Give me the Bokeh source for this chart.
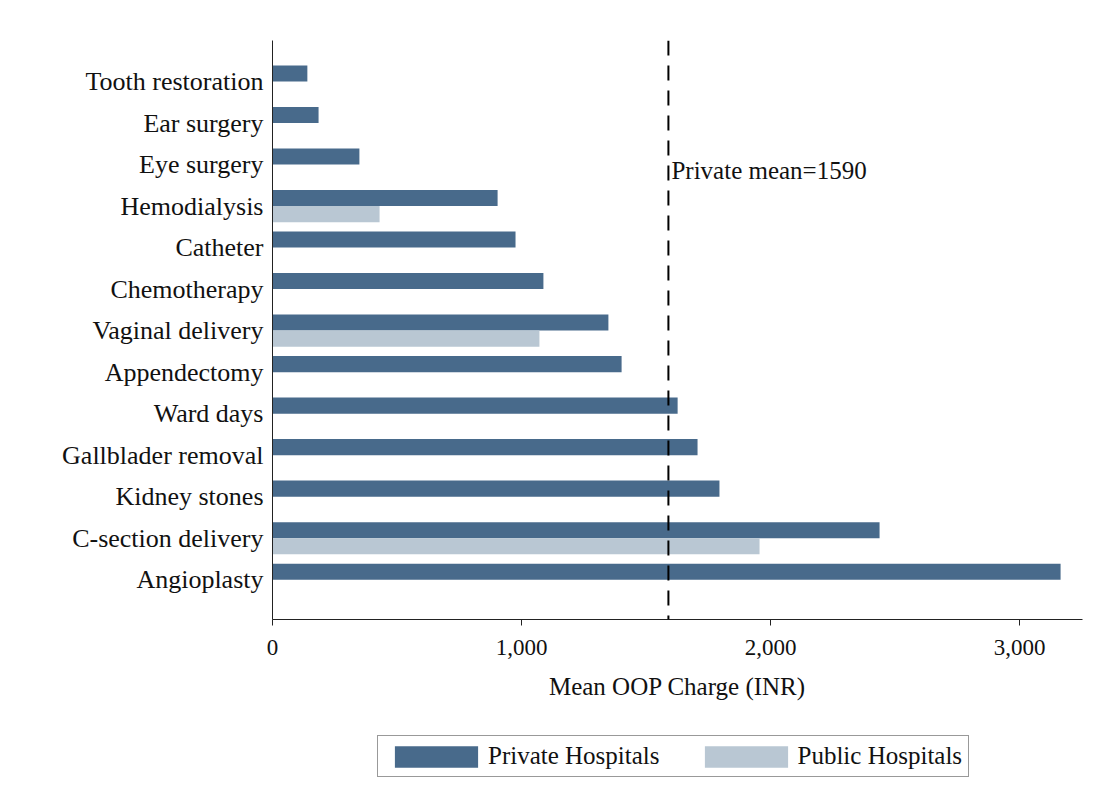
from bokeh.plotting import figure
from bokeh.layouts import column
from bokeh.models import (Span, Label, Legend, LegendItem, FixedTicker,
                          NumeralTickFormatter, Range1d, ColumnDataSource)
from bokeh.embed import file_html
from bokeh.resources import INLINE

categories = ["Tooth restoration", "Ear surgery", "Eye surgery", "Hemodialysis",
              "Catheter", "Chemotherapy", "Vaginal delivery", "Appendectomy",
              "Ward days", "Gallblader removal", "Kidney stones",
              "C-section delivery", "Angioplasty"]
private = [140, 185, 349, 904, 976, 1088, 1349, 1402, 1627, 1707, 1795, 2438, 3165]
public = [None, None, None, 430, None, None, 1072, None, None, None, None, 1956, None]
private_mean = 1590
x_ticks = [0, 1000, 2000, 3000]
series_names = ["Private Hospitals", "Public Hospitals"]

FONT = "Liberation Serif"
C_PRIV = "#486a8b"
C_PUB = "#b9c7d3"
BAR_H = 0.386

n = len(categories)
pos = [n - 1 - i for i in range(n)]

src_priv = ColumnDataSource(dict(y=[p + BAR_H / 2 for p in pos], right=private))
pub_y = [p - BAR_H / 2 for p, v in zip(pos, public) if v is not None]
pub_v = [v for v in public if v is not None]
src_pub = ColumnDataSource(dict(y=pub_y, right=pub_v))

p = figure(frame_width=810, frame_height=579, min_border_left=272, min_border_top=40,
           min_border_right=6, min_border_bottom=100,
           x_range=Range1d(0, 3253), y_range=Range1d(-0.96, 12.99),
           output_backend="svg", toolbar_location=None)

r1 = p.hbar(y="y", right="right", left=0, height=BAR_H, source=src_priv,
            fill_color=C_PRIV, line_color=None)
r2 = p.hbar(y="y", right="right", left=0, height=BAR_H, source=src_pub,
            fill_color=C_PUB, line_color=None)

p.add_layout(Span(location=private_mean, dimension="height", line_color="black",
                  line_width=2, line_dash="15 10"))
p.add_layout(Label(x=private_mean, y=9.85, x_offset=3, text=f"Private mean={private_mean}",
                   text_font=FONT, text_font_size="25px", text_baseline="middle",
                   text_color="#111111"))

p.xgrid.visible = False
p.ygrid.visible = False
p.outline_line_color = None

xa = p.xaxis[0]
xa.ticker = FixedTicker(ticks=x_ticks)
xa.formatter = NumeralTickFormatter(format="0,0")
xa.minor_tick_line_color = None
xa.major_tick_in = 0
xa.major_tick_out = 6
xa.axis_line_color = "#222222"
xa.major_tick_line_color = "#222222"
xa.major_label_text_font = FONT
xa.major_label_text_font_size = "23px"
xa.major_label_text_color = "#111111"
xa.major_label_standoff = 14
xa.axis_label = "Mean OOP Charge (INR)"
xa.axis_label_text_font = FONT
xa.axis_label_text_font_style = "normal"
xa.axis_label_text_font_size = "25px"
xa.axis_label_text_color = "#111111"
xa.axis_label_standoff = 15

ya = p.yaxis[0]
ya.ticker = FixedTicker(ticks=pos)
ya.major_label_overrides = {p_: c for p_, c in zip(pos, categories)}
ya.minor_tick_line_color = None
ya.major_tick_line_color = None
ya.major_tick_in = 0
ya.major_tick_out = 0
ya.axis_line_color = "#222222"
ya.major_label_text_font = FONT
ya.major_label_text_font_size = "26px"
ya.major_label_text_color = "#111111"
ya.major_label_standoff = 9

# legend strip underneath the chart (swatch-only renderers, nothing plotted)
nan = float("nan")
p2 = figure(width=1080, height=70, min_border=0, x_range=Range1d(0, 1), y_range=Range1d(0, 1),
            output_backend="svg", toolbar_location=None,
            x_axis_location=None, y_axis_location=None)
p2.xgrid.visible = False
p2.ygrid.visible = False
p2.outline_line_color = None
lr1 = p2.hbar(y=[nan], right=[nan], left=0, height=0.5, fill_color=C_PRIV, line_color=None)
lr2 = p2.hbar(y=[nan], right=[nan], left=0, height=0.5, fill_color=C_PUB, line_color=None)

legend = Legend(items=[LegendItem(label=series_names[0], renderers=[lr1]),
                       LegendItem(label=series_names[1], renderers=[lr2])],
                orientation="horizontal", location=(105, 12),
                glyph_width=104, glyph_height=27, label_height=27, label_standoff=0,
                spacing=34, padding=6, margin=0,
                border_line_color="#333333", border_line_width=1.5,
                label_text_font=FONT, label_text_font_size="25px",
                label_text_color="#111111", background_fill_alpha=1)
p2.add_layout(legend, "center")

layout = column(p, p2, spacing=0)
open("out.html", "w").write(file_html(layout, INLINE))
